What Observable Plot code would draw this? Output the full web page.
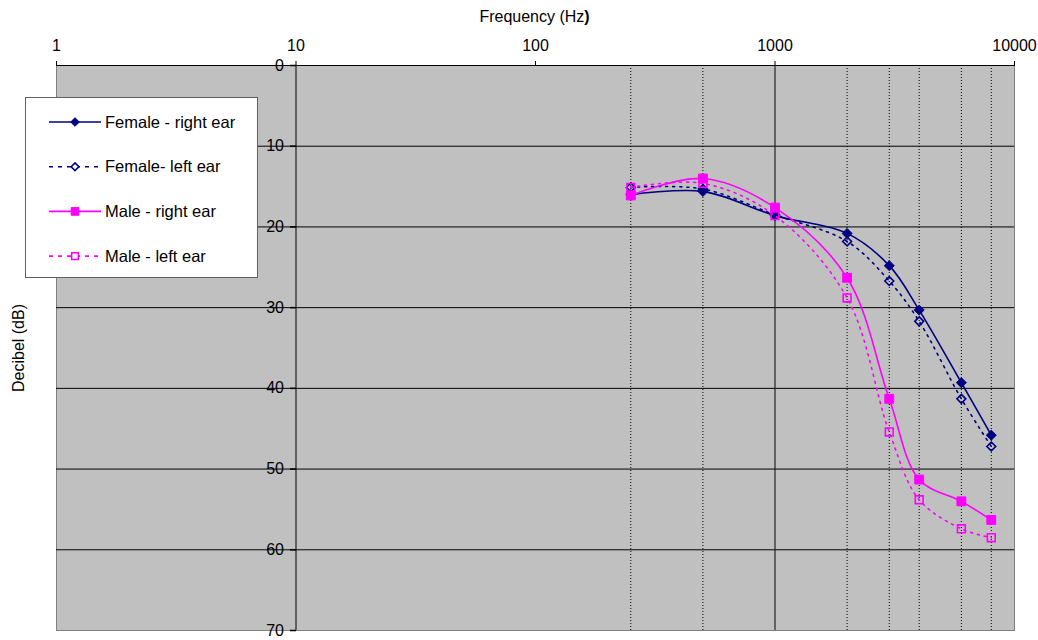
<!DOCTYPE html>
<html>
<head>
<meta charset="utf-8">
<script src="https://cdn.jsdelivr.net/npm/d3@7"></script>
<script src="https://cdn.jsdelivr.net/npm/@observablehq/plot@0.6"></script>
<style>
  html, body { margin: 0; padding: 0; background: #fff; }
  #wrap { position: relative; width: 1038px; height: 640px; font-family: "Liberation Sans", Arial, sans-serif; }
  #title { position: absolute; left: 384.5px; width: 300px; top: 8px; text-align: center; font-size: 16px; color: #000; }
  #legend { position: absolute; left: 25px; top: 97px; }
</style>
</head>
<body>
<div id="wrap">
  <div id="chart"></div>
  <div id="title">Frequency (Hz<b>)</b></div>
  <div id="legend"></div>
</div>
<script>
// ---- data ----
const freqs = [250, 500, 1000, 2000, 3000, 4000, 6000, 8000];
const femaleRight = [16.0, 15.6, 18.6, 20.8, 24.8, 30.3, 39.3, 45.8];
const femaleLeft  = [15.1, 15.3, 18.5, 21.8, 26.7, 31.7, 41.3, 47.2];
const maleRight   = [16.1, 14.0, 17.6, 26.3, 41.3, 51.3, 54.0, 56.3];
const maleLeft    = [15.1, 14.6, 18.6, 28.8, 45.4, 53.8, 57.4, 58.5];
const seriesNames = ["Female - right ear", "Female- left ear", "Male - right ear", "Male - left ear"];
const xTicks = [1, 10, 100, 1000, 10000];
const yTicks = [0, 10, 20, 30, 40, 50, 60, 70];
const yGrid = [10, 20, 30, 40, 50, 60];
const minorFreqs = [250, 500, 2000, 3000, 4000, 6000, 8000];
const majorFreqs = [1000];
const yAxisAt = [10];
const xTitle = "Frequency (Hz)";
const yTitle = "Decibel (dB)";

// ---- styles ----
const NAVY = "#000080", MAGENTA = "#ff00ff";
const styles = [
  {color: NAVY, dash: null, symbol: "diamond2", filled: true, r: 4.5},
  {color: NAVY, dash: "2,5", symbol: "diamond2", filled: false, r: 4.0},
  {color: MAGENTA, dash: null, symbol: "square", filled: true, r: 5.0},
  {color: MAGENTA, dash: "2,5", symbol: "square", filled: false, r: 4.4}
];
const seriesValues = [femaleRight, femaleLeft, maleRight, maleLeft];
const tables = seriesValues.map((vals, s) => freqs.map((f, i) => ({f, v: vals[i], s})));

const tickSymbol = { draw(ctx) { ctx.moveTo(-6, 0); ctx.lineTo(0, 0); } };

const seriesMarks = tables.flatMap((rows, s) => {
  const st = styles[s];
  return [
    Plot.line(rows, {x: "f", y: "v", curve: "catmull-rom", stroke: st.color, strokeWidth: 1.6,
      strokeDasharray: st.dash || undefined}),
    Plot.dot(rows, {x: "f", y: "v", symbol: st.symbol, r: st.r,
      fill: st.filled ? st.color : "none", stroke: st.color, strokeWidth: st.filled ? 1 : 1.6})
  ];
});

const chart = Plot.plot({
  width: 1038, height: 640,
  marginLeft: 56, marginRight: 24, marginTop: 65, marginBottom: 10,
  style: {fontFamily: '"Liberation Sans", Arial, sans-serif', fontSize: "16px", background: "transparent", color: "#000"},
  x: {type: "log", domain: [1, 10000]},
  y: {domain: [0, 70], reverse: true, axis: null},
  marks: [
    Plot.frame({fill: "#c0c0c0", stroke: "#808080"}),
    Plot.ruleY(yGrid, {stroke: "#000", strokeWidth: 1}),
    Plot.ruleX(minorFreqs, {stroke: "#000", strokeWidth: 1, strokeDasharray: "1,2"}),
    Plot.ruleX(majorFreqs, {stroke: "#222", strokeWidth: 1.2}),
    Plot.ruleX(yAxisAt, {stroke: "#000", strokeWidth: 1}),
    Plot.ruleY([0], {stroke: "#000", strokeWidth: 1}),
    Plot.axisX(xTicks, {anchor: "top", tickFormat: d => String(d), tickSize: 5, tickPadding: 10, label: null, fontSize: 16}),
    Plot.dot(yTicks, {x: () => yAxisAt[0], y: d => d, symbol: tickSymbol, stroke: "#000", fill: "none", r: 3}),
    Plot.text(yTicks, {x: () => yAxisAt[0], y: d => d, text: d => String(d), textAnchor: "end", dx: -12, fontSize: 16}),
    Plot.text([yTitle], {frameAnchor: "left", textAnchor: "middle", lineAnchor: "middle", rotate: -90, dx: -38, fontSize: 16}),
    ...seriesMarks
  ]
});
document.getElementById("chart").appendChild(chart);

// ---- legend ----
const LW = 233, LH = 181;
const lsvg = d3.create("svg").attr("width", LW).attr("height", LH)
  .style("display", "block")
  .style("font-family", '"Liberation Sans", Arial, sans-serif');
lsvg.append("rect").attr("x", 0.5).attr("y", 0.5).attr("width", LW - 1).attr("height", LH - 1)
  .attr("fill", "#fff").attr("stroke", "#606060");
const symMap = {diamond2: d3.symbolDiamond2, square: d3.symbolSquare};
seriesNames.forEach((name, i) => {
  const st = styles[i];
  const cy = 25 + i * 44.7;
  const g = lsvg.append("g").attr("transform", `translate(0,${cy})`);
  g.append("line").attr("x1", 24).attr("x2", 76).attr("y1", 0).attr("y2", 0)
    .attr("stroke", st.color).attr("stroke-width", 1.6)
    .attr("stroke-dasharray", st.dash ? "4,5" : null);
  g.append("path").attr("transform", "translate(50,0)")
    .attr("d", d3.symbol(symMap[st.symbol], Math.PI * st.r * st.r * 0.75)())
    .attr("fill", st.filled ? st.color : "#fff").attr("stroke", st.color).attr("stroke-width", st.filled ? 1 : 1.6);
  g.append("text").attr("x", 80).attr("y", 0).attr("dy", "0.35em")
    .attr("font-size", 16.5).attr("fill", "#000").text(name);
});
document.getElementById("legend").appendChild(lsvg.node());
</script>
</body>
</html>
